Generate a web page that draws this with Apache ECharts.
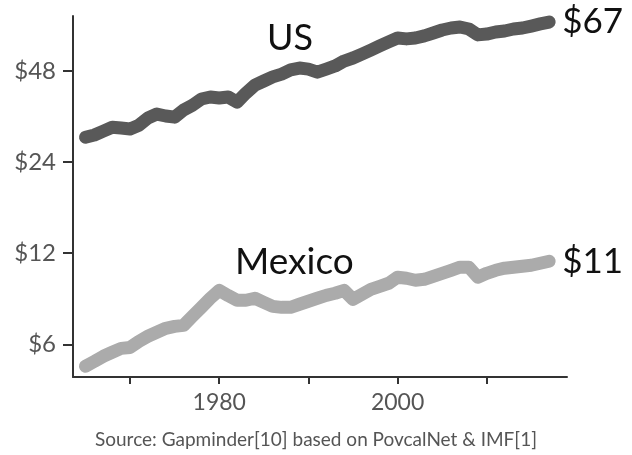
<!DOCTYPE html>
<html>
<head>
<meta charset="utf-8">
<script src="https://cdn.jsdelivr.net/npm/echarts@6/dist/echarts.min.js"></script>
<style>
  html, body { margin: 0; padding: 0; background: #fff; }
  #chart { width: 632px; height: 455px; }
</style>
</head>
<body>
<div id="chart"></div>
<script>
// ---- data ----
const years = [1965,1966,1967,1968,1969,1970,1971,1972,1973,1974,1975,1976,1977,1978,1979,
  1980,1981,1982,1983,1984,1985,1986,1987,1988,1989,1990,1991,1992,1993,1994,1995,1996,1997,1998,1999,
  2000,2001,2002,2003,2004,2005,2006,2007,2008,2009,2010,2011,2012,2013,2014,2015,2016,2017];

const usIncome = [29.0,29.5,30.4,31.3,31.1,30.9,31.8,33.6,34.6,34.1,33.8,35.7,37.0,38.8,39.4,
  39.1,39.4,37.9,40.6,43.1,44.5,45.9,46.9,48.4,49.1,48.7,47.6,48.7,49.9,51.8,53.0,54.6,56.3,58.1,59.9,
  61.7,61.3,61.7,62.7,64.1,65.6,66.6,67.1,66.1,63.2,63.6,64.6,65.1,66.1,66.6,67.6,68.7,69.7];

const mexicoIncome = [5.08,5.27,5.48,5.65,5.82,5.86,6.14,6.38,6.58,6.78,6.88,6.93,7.43,7.95,8.52,
  9.05,8.70,8.39,8.39,8.52,8.26,8.01,7.95,7.95,8.14,8.33,8.52,8.71,8.85,9.05,8.45,8.78,9.12,9.33,9.55,
  10.0,9.92,9.77,9.84,10.07,10.30,10.54,10.79,10.79,10.0,10.30,10.54,10.71,10.79,10.87,10.95,11.12,11.29];

const seriesNames = ['US', 'Mexico'];
const endLabels = ['$67', '$11'];
const yTickValues = [6, 12, 24, 48];
const xTickValues = [1970, 1980, 1990, 2000, 2010];
const xLabelValues = [1980, 2000];
const sourceText = 'Source: Gapminder[10] based on PovcalNet & IMF[1]';

// ---- chart ----
const FONT = 'Lato, "Open Sans", sans-serif';
const chart = echarts.init(document.getElementById('chart'), null, { renderer: 'canvas' });

function pairs(vals) { return years.map((y, i) => [y, vals[i]]); }

const option = {
  animation: false,
  backgroundColor: '#fff',
  grid: { left: 73, right: 65, top: 16, bottom: 78, containLabel: false },
  xAxis: {
    type: 'value',
    min: 1963.6,
    max: 2019,
    axisLine: { show: true, lineStyle: { color: '#333', width: 2 } },
    axisTick: { show: true, length: 7, lineStyle: { color: '#333', width: 2 }, customValues: xTickValues },
    axisLabel: {
      show: true, customValues: xLabelValues, margin: 14,
      fontFamily: FONT, fontSize: 23, color: '#555',
      formatter: v => String(v)
    },
    splitLine: { show: false }
  },
  yAxis: {
    type: 'log',
    logBase: 2,
    min: 4.68,
    max: 72.97,
    axisLine: { show: true, lineStyle: { color: '#333', width: 2 } },
    axisTick: { show: true, length: 10, lineStyle: { color: '#333', width: 2 }, customValues: yTickValues },
    axisLabel: {
      show: true, customValues: yTickValues, margin: 17,
      fontFamily: FONT, fontSize: 24, color: '#555',
      formatter: v => '$' + Math.round(v)
    },
    splitLine: { show: false }
  },
  series: [
    {
      name: seriesNames[0],
      type: 'line',
      data: pairs(usIncome),
      showSymbol: false,
      lineStyle: { color: '#595959', width: 13, cap: 'round', join: 'round' },
      endLabel: {
        show: true, formatter: endLabels[0], distance: 13,
        fontFamily: FONT, fontSize: 35, color: '#111'
      }
    },
    {
      name: seriesNames[1],
      type: 'line',
      data: pairs(mexicoIncome),
      showSymbol: false,
      lineStyle: { color: '#ababab', width: 13, cap: 'round', join: 'round' },
      endLabel: {
        show: true, formatter: endLabels[1], distance: 13,
        fontFamily: FONT, fontSize: 35, color: '#111'
      }
    }
  ],
  graphic: [
    { type: 'text', left: 267, top: 20,
      style: { text: seriesNames[0], fontFamily: FONT, fontSize: 36, fill: '#111' } },
    { type: 'text', left: 235, top: 244,
      style: { text: seriesNames[1], fontFamily: FONT, fontSize: 37, fill: '#111' } },
    { type: 'text', left: 'center', top: 430,
      style: { text: sourceText, fontFamily: FONT, fontSize: 19, fill: '#555' } }
  ]
};
chart.setOption(option);
</script>
</body>
</html>
